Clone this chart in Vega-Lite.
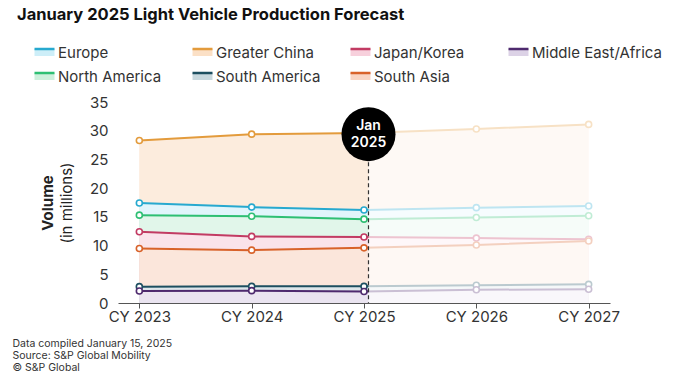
{
  "$schema": "https://vega.github.io/schema/vega-lite/v6.json",
  "width": 492,
  "height": 201,
  "autosize": "none",
  "padding": {"left": 118, "top": 102, "right": 86, "bottom": 75},
  "background": "white",
  "title": {
    "text": "January 2025 Light Vehicle Production Forecast",
    "anchor": "start",
    "frame": "group",
    "fontSize": 16.5,
    "fontWeight": "bold",
    "font": "Inter",
    "color": "#111111",
    "dx": -101,
    "dy": -8,
    "offset": 10
  },
  "config": {
    "view": {"stroke": null},
    "font": "Inter",
    "axis": {"labelFont": "Inter", "titleFont": "Inter", "labelColor": "#333333", "titleColor": "#222222"},
    "axisY": {"tickCount": 8, "labelOverlap": false},
    "legend": {"labelFont": "Inter"}
  },
  "datasets": {
    "production": [
      {"region": "Greater China", "year": 2023, "value": 28.3},
      {"region": "Greater China", "year": 2024, "value": 29.4},
      {"region": "Greater China", "year": 2025, "value": 29.6},
      {"region": "Greater China", "year": 2026, "value": 30.3},
      {"region": "Greater China", "year": 2027, "value": 31.1},
      {"region": "Europe", "year": 2023, "value": 17.4},
      {"region": "Europe", "year": 2024, "value": 16.7},
      {"region": "Europe", "year": 2025, "value": 16.2},
      {"region": "Europe", "year": 2026, "value": 16.6},
      {"region": "Europe", "year": 2027, "value": 16.9},
      {"region": "North America", "year": 2023, "value": 15.3},
      {"region": "North America", "year": 2024, "value": 15.1},
      {"region": "North America", "year": 2025, "value": 14.6},
      {"region": "North America", "year": 2026, "value": 14.9},
      {"region": "North America", "year": 2027, "value": 15.2},
      {"region": "Japan/Korea", "year": 2023, "value": 12.4},
      {"region": "Japan/Korea", "year": 2024, "value": 11.6},
      {"region": "Japan/Korea", "year": 2025, "value": 11.5},
      {"region": "Japan/Korea", "year": 2026, "value": 11.3},
      {"region": "Japan/Korea", "year": 2027, "value": 11.1},
      {"region": "South Asia", "year": 2023, "value": 9.5},
      {"region": "South Asia", "year": 2024, "value": 9.2},
      {"region": "South Asia", "year": 2025, "value": 9.6},
      {"region": "South Asia", "year": 2026, "value": 10.1},
      {"region": "South Asia", "year": 2027, "value": 10.8},
      {"region": "South America", "year": 2023, "value": 2.85},
      {"region": "South America", "year": 2024, "value": 2.9},
      {"region": "South America", "year": 2025, "value": 2.9},
      {"region": "South America", "year": 2026, "value": 3.1},
      {"region": "South America", "year": 2027, "value": 3.25},
      {"region": "Middle East/Africa", "year": 2023, "value": 2.1},
      {"region": "Middle East/Africa", "year": 2024, "value": 2.15},
      {"region": "Middle East/Africa", "year": 2025, "value": 2.0},
      {"region": "Middle East/Africa", "year": 2026, "value": 2.3},
      {"region": "Middle East/Africa", "year": 2027, "value": 2.4}
    ],
    "marker": [
      {"event": "Jan\n2025", "date": 2025.04, "level": 29.4}
    ]
  },
  "layer": [
    {
      "layer": [
        {
          "data": {"name": "production"},
          "mark": {"type": "area", "opacity": 1},
          "encoding": {
            "x": {
              "field": "year", "type": "quantitative",
              "scale": {"domain": [2022.81, 2027.19], "nice": false, "zero": false},
              "axis": {
                "values": [2023, 2024, 2025, 2026, 2027],
                "labelExpr": "'CY ' + datum.value",
                "grid": false,
                "domainColor": "#555555",
                "tickColor": "#555555",
                "tickSize": 5,
                "labelFontSize": 15,
                "labelPadding": 1,
                "zindex": 1,
                "title": ["Data compiled January 15, 2025", "Source: S&P Global Mobility", "© S&P Global"],
                "titleFontSize": 10.5,
                "titleFontWeight": "normal",
                "titleColor": "#333333",
                "titleLineHeight": 12,
                "titleAlign": "left",
                "titleBaseline": "top",
                "titleAngle": 0,
                "titleX": -106,
                "titleY": 35
              }
            },
            "y": {
              "field": "value", "type": "quantitative", "stack": null,
              "scale": {"domain": [0, 35], "nice": false},
              "axis": {
                "values": [0, 5, 10, 15, 20, 25, 30, 35],
                "tickCount": 8,
                "labelOverlap": false,
                "domain": false, "ticks": false, "grid": false,
                "labelFontSize": 15, "labelPadding": 10,
                "title": "(in millions)",
                "titleFontSize": 15, "titleFontWeight": "normal",
                "titlePadding": 15
              }
            },
            "fill": {
              "field": "region", "type": "nominal",
              "scale": {
                "domain": ["Europe", "Greater China", "Japan/Korea", "Middle East/Africa", "North America", "South America", "South Asia"],
                "range": ["#cdeef8", "#fbe0c6", "#f7d0dc", "#dcd2e6", "#cdf0dc", "#c8d8de", "#f9d5c4"]
              },
              "legend": {
                "orient": "none", "legendX": -85, "legendY": -61,
                "columns": 4, "direction": "horizontal", "title": null, "gridAlign": "all",
                "symbolType": "M-1,-0.35H1V0.35H-1Z", "symbolSize": 400,
                "symbolStrokeWidth": 2.5, "symbolDash": [20, 60], "symbolOpacity": 1,
                "labelFontSize": 15, "labelOffset": 2, "labelColor": "#333333",
                "columnPadding": -2, "rowPadding": 4
              }
            }
          }
        },
        {
          "data": {"name": "marker"},
          "mark": {"type": "rect", "fill": "white", "opacity": 0.4},
          "encoding": {
            "x": {"datum": 2023, "type": "quantitative"},
            "x2": {"datum": 2027},
            "y": {"datum": 0, "type": "quantitative"},
            "y2": {"datum": 35}
          }
        },
        {
          "data": {"name": "production"},
          "mark": {"type": "line", "strokeWidth": 2},
          "encoding": {
            "x": {"field": "year", "type": "quantitative"},
            "y": {"field": "value", "type": "quantitative"},
            "stroke": {
              "field": "region", "type": "nominal",
              "scale": {
                "domain": ["Europe", "Greater China", "Japan/Korea", "Middle East/Africa", "North America", "South America", "South Asia"],
                "range": ["#27a9cf", "#e39b3c", "#c23b63", "#4e2a6e", "#2ebf73", "#1d4f60", "#d8622a"]
              },
              "legend": {
                "orient": "none", "legendX": -85, "legendY": -61,
                "columns": 4, "direction": "horizontal", "title": null, "gridAlign": "all",
                "symbolType": "M-1,-0.35H1V0.35H-1Z", "symbolSize": 400,
                "symbolStrokeWidth": 2.5, "symbolDash": [20, 60], "symbolOpacity": 1,
                "labelFontSize": 15, "labelOffset": 2, "labelColor": "#333333",
                "columnPadding": -2, "rowPadding": 4
              }
            }
          }
        },
        {
          "data": {"name": "production"},
          "mark": {"type": "point", "filled": false, "fill": "white", "fillOpacity": 1, "size": 36, "strokeWidth": 1.6, "opacity": 1},
          "encoding": {
            "x": {"field": "year", "type": "quantitative"},
            "y": {"field": "value", "type": "quantitative"},
            "stroke": {
              "field": "region", "type": "nominal",
              "legend": {
                "orient": "none", "legendX": -85, "legendY": -61,
                "columns": 4, "direction": "horizontal", "title": null, "gridAlign": "all",
                "symbolType": "M-1,-0.35H1V0.35H-1Z", "symbolSize": 400,
                "symbolStrokeWidth": 2.5, "symbolDash": [20, 60], "symbolOpacity": 1,
                "labelFontSize": 15, "labelOffset": 2, "labelColor": "#333333",
                "columnPadding": -2, "rowPadding": 4
              }
            }
          }
        },
        {
          "data": {"name": "marker"},
          "mark": {"type": "rect", "fill": "white", "opacity": 0.7},
          "encoding": {
            "x": {"field": "date", "type": "quantitative"},
            "x2": {"datum": 2027.19},
            "y": {"datum": 0, "type": "quantitative"},
            "y2": {"datum": 35}
          }
        }
      ]
    },
    {
      "data": {"name": "marker"},
      "layer": [
        {
          "mark": {"type": "rule", "strokeDash": [4, 3], "strokeWidth": 1.2, "color": "#333333"},
          "encoding": {
            "x": {"field": "date", "type": "quantitative"},
            "y": {
              "field": "level", "type": "quantitative",
              "scale": {"domain": [0, 35], "nice": false},
              "axis": {
                "orient": "left", "labels": false, "ticks": false, "domain": false, "grid": false,
                "title": "Volume", "titleFontSize": 15, "titleFontWeight": "bold",
                "titlePadding": 63
              }
            },
            "y2": {"datum": 0}
          }
        },
        {
          "mark": {"type": "point", "filled": true, "fill": "black", "opacity": 1, "size": 2916, "shape": "circle", "strokeWidth": 0},
          "encoding": {
            "x": {"field": "date", "type": "quantitative"},
            "y": {"field": "level", "type": "quantitative"}
          }
        },
        {
          "mark": {"type": "text", "lineBreak": "\n", "color": "white", "fontSize": 14, "fontWeight": 600, "lineHeight": 17, "align": "center", "baseline": "middle", "dy": -8.5},
          "encoding": {
            "x": {"field": "date", "type": "quantitative"},
            "y": {"field": "level", "type": "quantitative"},
            "text": {"field": "event"}
          }
        }
      ]
    }
  ],
  "resolve": {"scale": {"y": "independent"}}
}
